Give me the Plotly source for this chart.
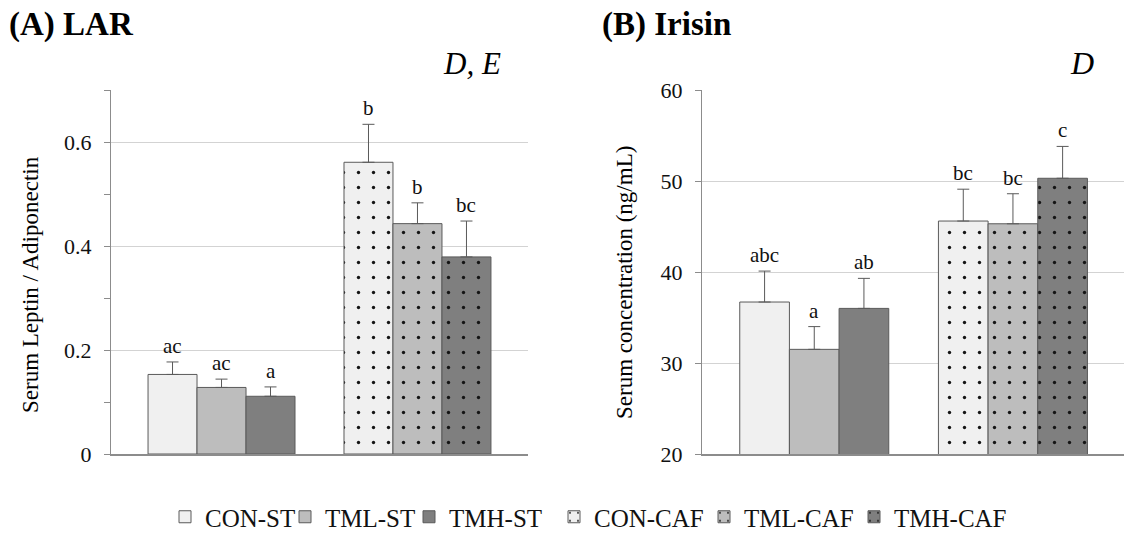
import plotly.graph_objects as go

# ---- data ----
groups = [0, 1]  # 0 = ST diet group, 1 = CAF diet group
series = ["CON-ST", "TML-ST", "TMH-ST", "CON-CAF", "TML-CAF", "TMH-CAF"]
series_group = [0, 0, 0, 1, 1, 1]
series_slot = ["CON", "TML", "TMH", "CON", "TML", "TMH"]

lar_mean = [0.153, 0.128, 0.111, 0.561, 0.443, 0.379]
lar_err = [0.024, 0.016, 0.018, 0.073, 0.040, 0.069]
lar_letters = ["ac", "ac", "a", "b", "b", "bc"]

irisin_mean = [36.7, 31.5, 36.0, 45.6, 45.3, 50.3]
irisin_err = [3.4, 2.5, 3.3, 3.5, 3.3, 3.5]
irisin_letters = ["abc", "a", "ab", "bc", "bc", "c"]

lar_ticks = [0, 0.2, 0.4, 0.6]
irisin_ticks = [20, 30, 40, 50, 60]

# ---- styling ----
FONT = "Liberation Serif"
fill = {"CON": "#f0f0f0", "TML": "#bdbdbd", "TMH": "#7f7f7f"}
edge = "#5a5a5a"
slot_offset = {"CON": -0.25, "TML": 0.0, "TMH": 0.25}
legend_text_px = [203, 323, 447, 592, 742, 892]  # where each legend label starts (px)

W, H = 1129, 533
def px_x(p):
    return p / W
def px_y(p):
    return 1 - p / H

fig = go.Figure()
legend_ids = ["legend", "legend2", "legend3", "legend4", "legend5", "legend6"]

def add_panel(means, errs, xa, ya, show):
    for i, name in enumerate(series):
        slot = series_slot[i]
        patterned = series_group[i] == 1
        pattern = dict(shape=".", size=15, solidity=0.04, fgcolor="#151515",
                       bgcolor=fill[slot], fillmode="replace") if patterned else dict(shape="")
        fig.add_trace(go.Bar(
            x=[groups[series_group[i]]], y=[means[i]], name=name,
            offsetgroup=slot, legendgroup=name, showlegend=show,
            legend=legend_ids[i],
            xaxis=xa, yaxis=ya,
            marker=dict(color=fill[slot], line=dict(color=edge, width=1), pattern=pattern),
            error_y=dict(type="data", array=[errs[i]], arrayminus=[0], symmetric=False,
                         color=edge, thickness=1, width=6),
        ))

add_panel(lar_mean, lar_err, "x", "y", True)
add_panel(irisin_mean, irisin_err, "x2", "y2", False)

annotations = []
def add_letters(means, errs, letters, xr, yr):
    for i in range(len(series)):
        annotations.append(dict(
            x=groups[series_group[i]] + slot_offset[series_slot[i]],
            y=means[i] + errs[i], xref=xr, yref=yr, text=letters[i],
            showarrow=False, yanchor="bottom", yshift=2,
            font=dict(family=FONT, size=21, color="#111")))

add_letters(lar_mean, lar_err, lar_letters, "x", "y")
add_letters(irisin_mean, irisin_err, irisin_letters, "x2", "y2")

# panel titles
annotations += [
    dict(text="<b>(A) LAR</b>", x=px_x(7), y=px_y(4), xref="paper", yref="paper",
         xanchor="left", yanchor="top", showarrow=False,
         font=dict(family=FONT, size=33, color="#000")),
    dict(text="<b>(B) Irisin</b>", x=px_x(600), y=px_y(4), xref="paper", yref="paper",
         xanchor="left", yanchor="top", showarrow=False,
         font=dict(family=FONT, size=33, color="#000")),
    dict(text="<i>D, E</i>", x=px_x(503), y=px_y(44), xref="paper", yref="paper",
         xanchor="right", yanchor="top", showarrow=False,
         font=dict(family=FONT, size=31, color="#000")),
    dict(text="<i>D</i>", x=px_x(1096), y=px_y(43), xref="paper", yref="paper",
         xanchor="right", yanchor="top", showarrow=False,
         font=dict(family=FONT, size=32, color="#000")),
    dict(text="Serum Leptin / Adiponectin", x=px_x(30), y=px_y(285), xref="paper", yref="paper",
         xanchor="center", yanchor="middle", textangle=-90, showarrow=False,
         font=dict(family=FONT, size=23, color="#000")),
    dict(text="Serum concentration (ng/mL)", x=px_x(624), y=px_y(283), xref="paper", yref="paper",
         xanchor="center", yanchor="middle", textangle=-90, showarrow=False,
         font=dict(family=FONT, size=23, color="#000")),
]

axis_line = "#8c8c8c"
grid = "#d3d3d3"
xcommon = dict(showticklabels=False, ticks="", showgrid=False, zeroline=False,
               showline=True, linecolor=axis_line, linewidth=1.5, fixedrange=True,
               automargin=False)
ycommon = dict(showline=True, linecolor=axis_line, linewidth=1, ticks="outside",
               ticklen=6, tickcolor=axis_line, showgrid=True, gridcolor=grid,
               gridwidth=1, zeroline=False, ticklabelstandoff=8, automargin=False,
               fixedrange=True, tickfont=dict(family=FONT, size=22, color="#111"))

legend_layout = {}
for i, lid in enumerate(legend_ids):
    legend_layout[lid] = dict(
        orientation="h", x=px_x(legend_text_px[i] - 38), xanchor="left",
        y=px_y(517), yanchor="middle", bgcolor="rgba(0,0,0,0)",
        font=dict(family=FONT, size=25, color="#111"), itemwidth=30)

fig.update_layout(
    width=W, height=H,
    margin=dict(l=0, r=0, t=0, b=0, autoexpand=False),
    paper_bgcolor="white", plot_bgcolor="white",
    barmode="group", bargap=0.25, bargroupgap=0,
    font=dict(family=FONT, color="#111"),
    xaxis=dict(domain=[px_x(111), px_x(528)], range=[-0.564, 1.564], anchor="y", **xcommon),
    xaxis2=dict(domain=[px_x(702), px_x(1124)], range=[-0.565, 1.559], anchor="y2", **xcommon),
    yaxis=dict(domain=[px_y(454), px_y(90)], range=[0, 0.7], tickvals=lar_ticks,
               minor=dict(dtick=0.1, ticks="outside", ticklen=6, tickcolor=axis_line, showgrid=False),
               anchor="x", **ycommon),
    yaxis2=dict(domain=[px_y(454), px_y(90)], range=[20, 60], tickvals=irisin_ticks,
                anchor="x2", **ycommon),
    annotations=annotations,
    **legend_layout,
)

fig.write_html(
    "out.html",
    config={"displayModeBar": False},
    post_script="document.body.style.margin='0';document.body.style.overflow='hidden';",
)
